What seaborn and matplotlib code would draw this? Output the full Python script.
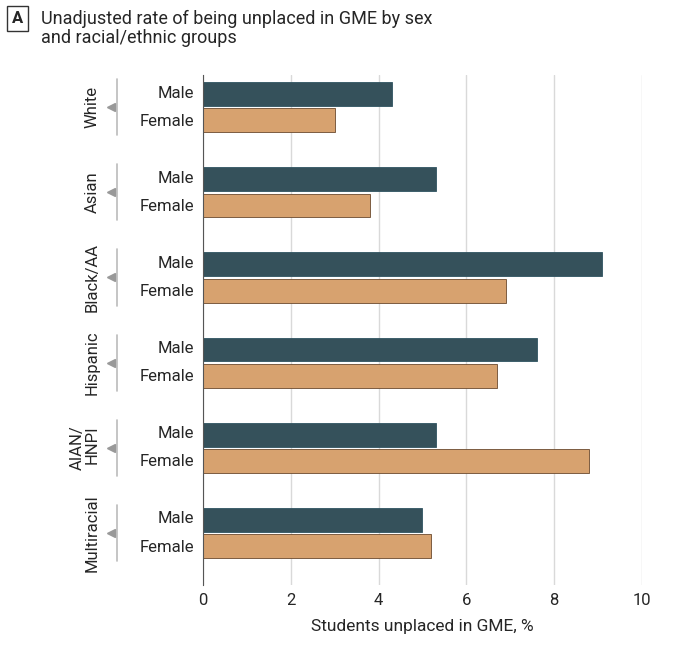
import matplotlib
matplotlib.use("Agg")
import matplotlib.pyplot as plt
import seaborn as sns
import pandas as pd

groups = ["White", "Asian", "Black/AA", "Hispanic", "AIAN/\nHNPI", "Multiracial"]
male = [4.3, 5.3, 9.1, 7.6, 5.3, 5.0]
female = [3.0, 3.8, 6.9, 6.7, 8.8, 5.2]

rows = []
for g, m, f in zip(groups, male, female):
    rows.append({"Group": g, "Sex": "Male", "Rate": m})
    rows.append({"Group": g, "Sex": "Female", "Rate": f})
df = pd.DataFrame(rows)

sns.set_style("white")
plt.rcParams["font.family"] = ["Roboto", "DejaVu Sans"]

fig = plt.figure(figsize=(6.8, 6.5), dpi=100)
ax = fig.add_axes([0.2985, 0.1, 0.6455, 0.785])
sns.barplot(data=df, y="Group", x="Rate", hue="Sex", orient="h",
            palette={"Male": "#2F5461", "Female": "#E8A15E"},
            width=0.62, gap=0.1, edgecolor="#6b4a2e", linewidth=0.6,
            legend=False, ax=ax)
for p in ax.patches:
    if p.get_facecolor()[0] < 0.5:
        p.set_edgecolor("#2F5461")

ax.set_xlim(0, 10)
ax.set_ylim(5.61, -0.38)
ax.set_xticks([0, 2, 4, 6, 8, 10])
ax.tick_params(axis="x", labelsize=12, length=0, pad=6)
ax.set_yticks([])
ax.set_ylabel("")
ax.set_xlabel("Students unplaced in GME, %", fontsize=12.5, labelpad=8)
ax.xaxis.grid(True, color="#d9d9d9", linewidth=1)
ax.set_axisbelow(True)
for s in ["top", "right", "bottom"]:
    ax.spines[s].set_visible(False)
ax.spines["left"].set_color("#555555")

tr = ax.get_yaxis_transform()
for i, g in enumerate(groups):
    ax.text(-0.02, i - 0.165, "Male", transform=tr, ha="right", va="center", fontsize=12)
    ax.text(-0.02, i + 0.165, "Female", transform=tr, ha="right", va="center", fontsize=12)
    ax.plot([-0.195, -0.195], [i - 0.33, i + 0.33], transform=tr, color="#bbbbbb",
            lw=1.2, clip_on=False)
    ax.plot([-0.21], [i], transform=tr, marker="<", color="#999999", ms=6,
            clip_on=False)
    ax.text(-0.235, i, g, transform=tr, ha="right", va="center", rotation=90,
            fontsize=12, linespacing=1.0)

fig.text(0.026, 0.972, "A", fontsize=12, fontweight="bold", ha="center", va="center",
         bbox=dict(boxstyle="square,pad=0.3", fc="white", ec="#333333", lw=1))
fig.text(0.06, 0.985, "Unadjusted rate of being unplaced in GME by sex\nand racial/ethnic groups",
         fontsize=13, ha="left", va="top", linespacing=1.1)

fig.savefig("out.png", dpi=100)
